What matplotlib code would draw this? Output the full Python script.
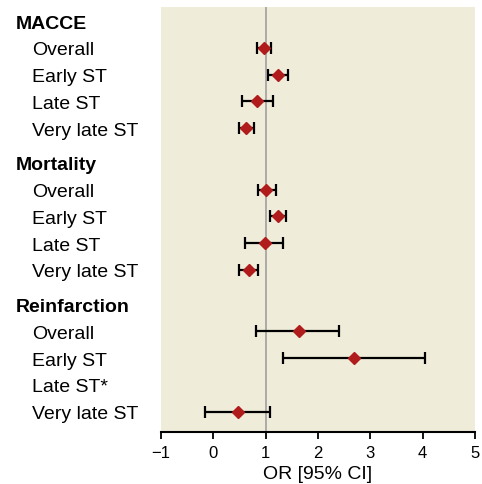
import matplotlib
matplotlib.use("Agg")
import matplotlib.pyplot as plt
import matplotlib.transforms as mtransforms
import numpy as np

groups = ["MACCE", "Mortality", "Reinfarction"]
sub_labels = {
    "MACCE": ["Overall", "Early ST", "Late ST", "Very late ST"],
    "Mortality": ["Overall", "Early ST", "Late ST", "Very late ST"],
    "Reinfarction": ["Overall", "Early ST", "Late ST*", "Very late ST"],
}
# OR estimates and 95% CI (None = not estimable)
or_macce = [0.97, 1.23, 0.84, 0.63]
lo_macce = [0.83, 1.04, 0.54, 0.50]
hi_macce = [1.10, 1.42, 1.14, 0.78]
or_mort = [1.00, 1.24, 0.98, 0.69]
lo_mort = [0.85, 1.08, 0.61, 0.50]
hi_mort = [1.19, 1.39, 1.33, 0.85]
or_reinf = [1.64, 2.69, None, 0.47]
lo_reinf = [0.81, 1.33, None, -0.15]
hi_reinf = [2.40, 4.04, None, 1.08]
xticks = [-1, 0, 1, 2, 3, 4, 5]
xlabel = "OR [95% CI]"

data = {
    "MACCE": (or_macce, lo_macce, hi_macce),
    "Mortality": (or_mort, lo_mort, hi_mort),
    "Reinfarction": (or_reinf, lo_reinf, hi_reinf),
}

font = ["Liberation Sans Narrow", "Liberation Sans", "DejaVu Sans"]
fig = plt.figure(figsize=(4.82, 4.85), dpi=100)
ax = fig.add_axes([161/482, 1-433/485, (475-161)/482, (433-8)/485])
ax.set_facecolor("#f0ecda")
for s in ["top", "left", "right"]:
    ax.spines[s].set_visible(False)
ax.spines["bottom"].set_linewidth(1.5)

trans = mtransforms.blended_transform_factory(fig.transFigure, ax.transData)
header_gap = 1.3
y = 0.0
for g in groups:
    ax.text(16/482, y, g, transform=trans, fontsize=14, fontweight="bold",
            family=font, va="center_baseline", ha="left")
    est, lo, hi = data[g]
    for i, lab in enumerate(sub_labels[g]):
        yy = y + 1 + i
        ax.text(32/482, yy, lab, transform=trans, fontsize=14, family=font,
                va="center_baseline", ha="left")
        if est[i] is not None:
            ax.errorbar([est[i]], [yy], xerr=[[est[i]-lo[i]], [hi[i]-est[i]]],
                        fmt="none", ecolor="black", elinewidth=1.6, capsize=4,
                        capthick=1.6, zorder=2)
            ax.plot([est[i]], [yy], marker="D", color="#b01c1c", ms=6.5,
                    ls="none", zorder=3)
    y += len(sub_labels[g]) + header_gap

ax.axvline(1, color="#a0a0a0", lw=1.2, zorder=1)
ax.set_xlim(-1, 5)
ax.set_ylim(15.36, -0.53)
ax.set_yticks([])
ax.set_xticks(xticks)
ax.set_xticklabels(["\u2212" + str(abs(t)) if t < 0 else str(t) for t in xticks],
                   family=font, fontsize=12)
ax.tick_params(axis="x", direction="out", length=5, width=1.3, pad=4)
ax.set_xlabel(xlabel, family=font, fontsize=14, labelpad=4)

fig.savefig("out.png", dpi=100)
